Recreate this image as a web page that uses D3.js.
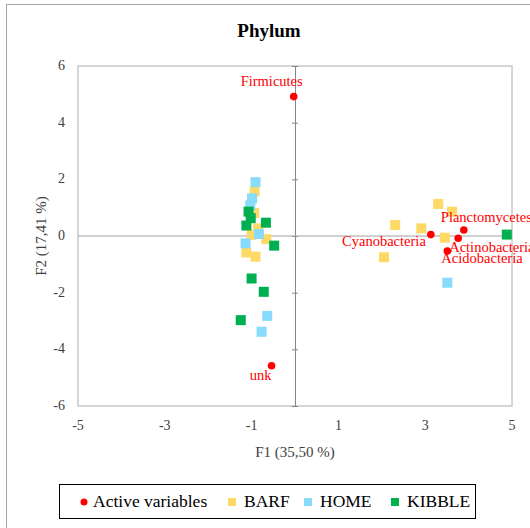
<!DOCTYPE html>
<html>
<head>
<meta charset="utf-8">
<script src="https://cdn.jsdelivr.net/npm/d3@7"></script>
<style>
  body { margin: 0; background: #fff; }
  svg { font-family: "Liberation Serif", "DejaVu Serif", serif; }
</style>
</head>
<body>
<svg id="chart" width="530" height="528"></svg>
<script>
// active variables (phyla)
var varNames = ["Firmicutes", "unk", "Cyanobacteria", "Planctomycetes", "Actinobacteria", "Acidobacteria"];
var varF1 = [-0.03, -0.54, 3.13, 3.89, 3.76, 3.51];
var varF2 = [4.92, -4.58, 0.05, 0.21, -0.08, -0.53];

// observations
var barfF1 = [-0.93, -0.94, -0.85, -1.0, -0.66, -1.12, -0.91, 3.30, 3.62, 2.31, 2.91, 3.45, 2.05];
var barfF2 = [1.57, 0.81, 0.27, 0.04, -0.11, -0.58, -0.73, 1.13, 0.86, 0.39, 0.27, -0.06, -0.75];
var homeF1 = [-0.91, -0.99, -1.03, -0.83, -1.14, -0.64, -0.77, 3.51];
var homeF2 = [1.90, 1.33, 1.09, 0.07, -0.26, -2.82, -3.38, -1.65];
var kibbleF1 = [-1.07, -1.02, -1.12, -0.67, -0.48, -1.0, -0.72, -1.25, 4.88];
var kibbleF2 = [0.86, 0.63, 0.37, 0.47, -0.34, -1.5, -1.97, -2.97, 0.05];

var xTicks = [-5, -3, -1, 1, 3, 5];
var yTicks = [-6, -4, -2, 0, 2, 4, 6];

var groups = [
  {name: "BARF", color: "#FFD966", x: barfF1, y: barfF2},
  {name: "HOME", color: "#89DBFB", x: homeF1, y: homeF2},
  {name: "KIBBLE", color: "#00B050", x: kibbleF1, y: kibbleF2}
];

var svg = d3.select("#chart");
var x = d3.scaleLinear().domain([-5, 5]).range([78, 512]);
var y = d3.scaleLinear().domain([-6, 6]).range([406, 66]);

// outer frame
svg.append("rect").attr("x", 6.5).attr("y", 4.5).attr("width", 540).attr("height", 540)
  .attr("fill", "none").attr("stroke", "#a6a6a6");

svg.append("text").attr("x", 269).attr("y", 37).attr("text-anchor", "middle")
  .style("font-size", "19px").style("font-weight", "bold").text("Phylum");

// plot border
svg.append("rect").attr("x", x(-5)).attr("y", y(6)).attr("width", x(5) - x(-5)).attr("height", y(-6) - y(6))
  .attr("fill", "none").attr("stroke", "#c8c8c8").attr("stroke-width", 1.5);

// axes crossing at zero
var yAxis = d3.axisLeft(y).tickValues(yTicks).tickSizeInner(-3).tickSizeOuter(0).tickFormat("");
var ya = svg.append("g").attr("transform", "translate(" + x(0) + ",0)").call(yAxis);
ya.selectAll(".tick line").attr("x1", 3).attr("x2", -3);
ya.selectAll("line, path").attr("stroke", "#868686");

svg.append("line").attr("x1", x(-5)).attr("x2", x(5)).attr("y1", y(0)).attr("y2", y(0))
  .attr("stroke", "#a0a0a0");

// tick labels
svg.selectAll(".xl").data(xTicks).enter().append("text")
  .attr("x", function(d) { return x(d); }).attr("y", 430)
  .attr("text-anchor", "middle").style("font-size", "14px").attr("fill", "#404040")
  .text(function(d) { return d; });
svg.selectAll(".yl").data(yTicks).enter().append("text")
  .attr("x", 65).attr("y", function(d) { return y(d) + 4; })
  .attr("text-anchor", "end").style("font-size", "14px").attr("fill", "#404040")
  .text(function(d) { return d; });

svg.append("text").attr("x", x(0)).attr("y", 457).attr("text-anchor", "middle")
  .style("font-size", "15px").attr("fill", "#404040").text("F1 (35,50 %)");
svg.append("text").attr("transform", "translate(46," + y(0) + ") rotate(-90)").attr("text-anchor", "middle")
  .style("font-size", "15px").attr("fill", "#404040").text("F2 (17,41 %)");

// observations
groups.forEach(function(g) {
  svg.selectAll(null).data(g.x).enter().append("rect")
    .attr("x", function(d) { return x(d) - 5; })
    .attr("y", function(d, i) { return y(g.y[i]) - 5; })
    .attr("width", 10).attr("height", 10)
    .attr("fill", g.color);
});

// active variables
var labelPos = {
  "Firmicutes": [-22, -11, "middle"],
  "unk": [-11, 14, "middle"],
  "Cyanobacteria": [-5, 11, "end"],
  "Planctomycetes": [-23, -8, "start"],
  "Actinobacteria": [-9, 14, "start"],
  "Acidobacteria": [-6, 12, "start"]
};
svg.selectAll(".dot").data(varNames).enter().append("circle")
  .attr("cx", function(d, i) { return x(varF1[i]); })
  .attr("cy", function(d, i) { return y(varF2[i]); })
  .attr("r", 3.8).attr("fill", "#FF0000");
svg.selectAll(".vl").data(varNames).enter().append("text")
  .attr("x", function(d, i) { return x(varF1[i]) + labelPos[d][0]; })
  .attr("y", function(d, i) { return y(varF2[i]) + labelPos[d][1]; })
  .attr("text-anchor", function(d) { return labelPos[d][2]; })
  .style("font-size", "14.5px").attr("fill", "#FF0000")
  .text(function(d) { return d; });

// legend
var lg = svg.append("g");
lg.append("rect").attr("x", 59.5).attr("y", 484.5).attr("width", 416).attr("height", 34)
  .attr("fill", "#fff").attr("stroke", "#000");
lg.append("circle").attr("cx", 84).attr("cy", 502).attr("r", 3.5).attr("fill", "#FF0000");
lg.append("text").attr("x", 93).attr("y", 507).style("font-size", "17.5px").text("Active variables");
var legX = [232, 308, 395];
groups.forEach(function(g, i) {
  lg.append("rect").attr("x", legX[i] - 4).attr("y", 498).attr("width", 8).attr("height", 8).attr("fill", g.color);
  lg.append("text").attr("x", legX[i] + 12).attr("y", 507).style("font-size", "17.5px").text(g.name);
});
</script>
</body>
</html>
